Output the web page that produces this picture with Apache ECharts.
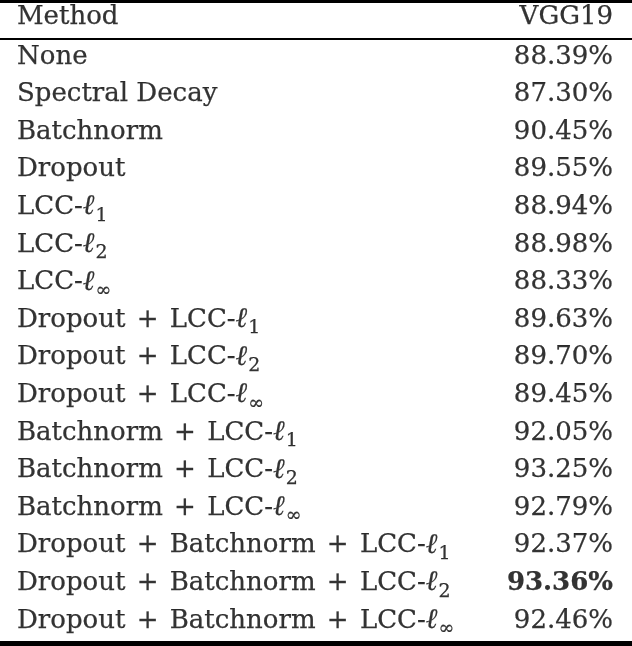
<!DOCTYPE html>
<html><head><meta charset="utf-8">
<script src="https://cdn.jsdelivr.net/npm/echarts@6/dist/echarts.min.js"></script>
<style>html,body{margin:0;padding:0;background:#fff}#c{width:632px;height:646px}</style>
</head><body><div id="c"></div>
<script>
const headers = ['Method', 'VGG19'];
const methods = [
  'None', 'Spectral Decay', 'Batchnorm', 'Dropout',
  'LCC-ℓ_1', 'LCC-ℓ_2', 'LCC-ℓ_∞',
  'Dropout + LCC-ℓ_1', 'Dropout + LCC-ℓ_2', 'Dropout + LCC-ℓ_∞',
  'Batchnorm + LCC-ℓ_1', 'Batchnorm + LCC-ℓ_2', 'Batchnorm + LCC-ℓ_∞',
  'Dropout + Batchnorm + LCC-ℓ_1', 'Dropout + Batchnorm + LCC-ℓ_2', 'Dropout + Batchnorm + LCC-ℓ_∞'
];
const vgg19 = [88.39, 87.30, 90.45, 89.55, 88.94, 88.98, 88.33, 89.63, 89.70, 89.45, 92.05, 93.25, 92.79, 92.37, 93.36, 92.46];

const FONT = 'DejaVu Serif';
const FS = 26;
const best = Math.max(...vgg19);

function fmtPart(s) {
  const i = s.indexOf('_');
  if (i < 0) return '{t|' + s + '}';
  const pre = s.slice(0, i), sub = s.slice(i + 1);
  const ell = pre.slice(-1), base = pre.slice(0, -1);
  return '{t|' + base + '}{ell|' + ell + '}{sub|' + sub + '}';
}
function fmtMethod(s) {
  return s.split(' + ').map(fmtPart).join('{p| + }');
}
const ink = { color: '#000', textBorderColor: '#000', textBorderWidth: 0.25 };
const rich = {
  t: Object.assign({ fontFamily: FONT, fontSize: FS }, ink),
  p: Object.assign({ fontFamily: FONT, fontSize: FS, padding: [0, 3, 0, 3] }, ink),
  ell: Object.assign({ fontFamily: FONT, fontSize: FS + 2, fontStyle: 'italic' }, ink),
  sub: Object.assign({ fontFamily: FONT, fontSize: 19, padding: [17, 0, 0, 1] }, ink),
  b: Object.assign({ fontFamily: FONT, fontSize: FS, fontWeight: 'bold' }, ink)
};

const chart = echarts.init(document.getElementById('c'), null, { renderer: 'canvas' });
const hidden = { show: false };
const lbl = (pos, fmt) => ({ show: true, position: pos, distance: pos === 'right' ? 17 : 19,
  color: '#000', fontFamily: FONT, fontSize: FS, formatter: fmt, rich });
chart.setOption({
  animation: false,
  backgroundColor: '#fff',
  grid: [
    { left: 0, right: 0, top: 0, height: 35 },
    { left: 0, right: 0, top: 38, bottom: 6.4 }
  ],
  xAxis: [
    { gridIndex: 0, type: 'value', min: 0, max: 1, position: 'top',
      axisLine: { show: true, onZero: false, lineStyle: { color: '#000', width: 6 } },
      axisTick: hidden, axisLabel: hidden, splitLine: hidden },
    { gridIndex: 0, type: 'value', min: 0, max: 1, position: 'bottom', offset: 4,
      axisLine: { show: true, onZero: false, lineStyle: { color: '#000', width: 2 } },
      axisTick: hidden, axisLabel: hidden, splitLine: hidden },
    { gridIndex: 1, type: 'value', min: 0, max: 1, position: 'bottom', offset: 4,
      axisLine: { show: true, onZero: false, lineStyle: { color: '#000', width: 5 } },
      axisTick: hidden, axisLabel: hidden, splitLine: hidden }
  ],
  yAxis: [
    { gridIndex: 0, type: 'category', data: ['header'], show: false },
    { gridIndex: 1, type: 'category', data: methods, inverse: true, show: false }
  ],
  series: [
    { type: 'scatter', xAxisIndex: 0, yAxisIndex: 0, symbolSize: 0, silent: true,
      data: [[0, 0]], label: lbl('right', () => '{t|' + headers[0] + '}') },
    { type: 'scatter', xAxisIndex: 0, yAxisIndex: 0, symbolSize: 0, silent: true,
      data: [[1, 0]], label: lbl('left', () => '{t|' + headers[1] + '}') },
    { type: 'scatter', xAxisIndex: 2, yAxisIndex: 1, symbolSize: 0, silent: true,
      data: methods.map((m, i) => [0, i]),
      label: lbl('right', p => fmtMethod(methods[p.dataIndex])) },
    { type: 'scatter', xAxisIndex: 2, yAxisIndex: 1, symbolSize: 0, silent: true,
      data: vgg19.map((v, i) => [1, i]),
      label: lbl('left', p => { const v = vgg19[p.dataIndex]; return '{' + (v === best ? 'b' : 't') + '|' + v.toFixed(2) + '%}'; }) }
  ]
});
</script></body></html>
